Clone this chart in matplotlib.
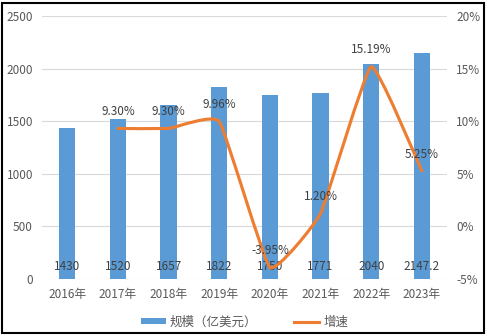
import matplotlib
matplotlib.use("Agg")
import matplotlib.pyplot as plt
from matplotlib.path import Path
from matplotlib.patches import PathPatch, Rectangle
from matplotlib.lines import Line2D
from matplotlib.ticker import FuncFormatter

plt.rcParams['font.family'] = ['Noto Sans CJK SC', 'DejaVu Sans']

years = ['2016年', '2017年', '2018年', '2019年', '2020年', '2021年', '2022年', '2023年']
scale = [1430, 1520, 1657, 1822, 1750, 1771, 2040, 2147.2]
scale_labels = ['1430', '1520', '1657', '1822', '1750', '1771', '2040', '2147.2']
growth = [9.30, 9.30, 9.96, -3.95, 1.20, 15.19, 5.25]  # 2017-2023, percent
growth_labels = ['9.30%', '9.30%', '9.96%', '-3.95%', '1.20%', '15.19%', '5.25%']

BLUE = '#5B9BD5'
ORANGE = '#ED7D31'
TXT = '#595959'
GRID = '#D9D9D9'

fig = plt.figure(figsize=(4.87, 3.36), dpi=100)
ax = fig.add_axes([0.0862, 0.171, 0.832, 0.781])
ax2 = ax.twinx()

x = list(range(len(years)))
ax.bar(x, scale, width=0.32, color=BLUE, zorder=2)
ax.set_xlim(-0.5, len(years) - 0.5)
ax.set_ylim(0, 2500)
ax.set_yticks(range(0, 2501, 500))
ax.grid(axis='y', color=GRID, lw=0.8, zorder=0)
ax.set_axisbelow(True)
ax.set_xticks(x)
ax.set_xticklabels(years)
ax.tick_params(axis='both', length=0, colors=TXT, labelsize=8.5)
ax.tick_params(axis='x', pad=7)
ax.tick_params(axis='y', pad=6.5)
for s in ax.spines.values():
    s.set_visible(False)

for xi, v, lab in zip(x, scale, scale_labels):
    ax.annotate(lab, (xi, 0), xytext=(0, 8.5), textcoords='offset points',
                ha='center', va='center', fontsize=8.5, color='#404040', zorder=3)

# growth line (lightly smoothed, Excel-like)
k = 0.06
gx = x[1:]
gy = [g / 100 for g in growth]
pts = list(zip(gx, gy))
n = len(pts)
verts = [pts[0]]
codes = [Path.MOVETO]
for i in range(n - 1):
    p0 = pts[i - 1] if i > 0 else pts[i]
    p1 = pts[i]
    p2 = pts[i + 1]
    p3 = pts[i + 2] if i + 2 < n else pts[i + 1]
    c1 = (p1[0] + (p2[0] - p0[0]) * k, p1[1] + (p2[1] - p0[1]) * k)
    c2 = (p2[0] - (p3[0] - p1[0]) * k, p2[1] - (p3[1] - p1[1]) * k)
    verts += [c1, c2, p2]
    codes += [Path.CURVE4] * 3
ax2.add_patch(PathPatch(Path(verts, codes), fill=False, edgecolor=ORANGE, lw=2.25,
                        capstyle='round', joinstyle='round', zorder=4))
ax2.set_ylim(-0.05, 0.20)
ax2.set_yticks([-0.05, 0, 0.05, 0.10, 0.15, 0.20])
ax2.yaxis.set_major_formatter(FuncFormatter(lambda v, p: f"{round(v*100):d}%"))
ax2.tick_params(axis='y', length=0, colors=TXT, labelsize=8.5, pad=6.5)
for s in ax2.spines.values():
    s.set_visible(False)

for xi, v, lab in zip(gx, gy, growth_labels):
    ax2.annotate(lab, (xi, v), xytext=(0, 12), textcoords='offset points',
                 ha='center', va='center', fontsize=8.5, color='#404040', zorder=5)

handles = [Rectangle((0, 0), 1, 1, facecolor=BLUE, edgecolor='none'),
           Line2D([0], [0], color=ORANGE, lw=2.25)]
leg = fig.legend(handles, ['规模（亿美元）', '增速'], loc='center', bbox_to_anchor=(0.502, 0.042),
                 ncol=2, frameon=False, fontsize=9, handlelength=2.0, handleheight=0.35,
                 columnspacing=3.0, handletextpad=0.3)
for t in leg.get_texts():
    t.set_color(TXT)

fig.patches.append(Rectangle((0.005, 0.009), 0.988, 0.982, transform=fig.transFigure,
                             fill=False, edgecolor='black', lw=1.5))

fig.savefig('out.png', dpi=100)
